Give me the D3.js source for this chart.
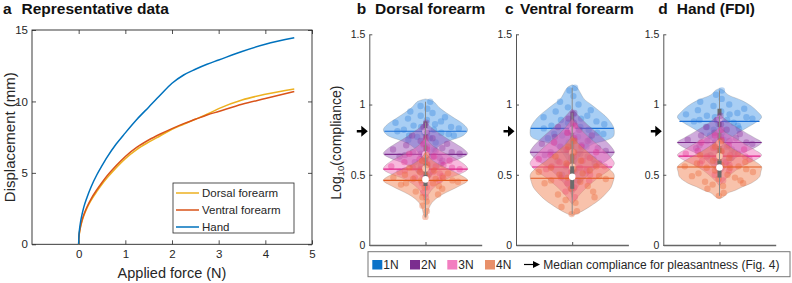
<!DOCTYPE html>
<html><head><meta charset="utf-8">
<script src="https://cdn.jsdelivr.net/npm/d3@7"></script>
<style>
body{margin:0;background:#fff}
svg{display:block;font-family:"Liberation Sans",Arial,sans-serif}
</style>
</head><body>
<svg id="c" width="792" height="283"></svg>
<script>
// ---------------- DATA ----------------
// Panel a: representative force–displacement curves
const curveNames = ["Dorsal forearm", "Ventral forearm", "Hand"];
const appliedForce = [0, 0.005, 0.02, 0.04, 0.07, 0.11, 0.18, 0.27, 0.39, 0.5, 0.61, 0.8, 1.0, 1.25, 1.5, 1.75, 2.0, 2.25, 2.5, 2.75, 3.0, 3.5, 4.0, 4.62];
const dorsalDisp  = [0, 0.42, 0.85, 1.2, 1.6, 2.0, 2.55, 3.1, 3.7, 4.2, 4.65, 5.35, 6.0, 6.65, 7.15, 7.6, 8.05, 8.4, 8.75, 9.1, 9.5, 10.1, 10.5, 10.87];
const ventralDisp = [0, 0.45, 0.9, 1.25, 1.66, 2.07, 2.63, 3.2, 3.82, 4.33, 4.8, 5.5, 6.15, 6.8, 7.3, 7.72, 8.1, 8.45, 8.75, 9.05, 9.3, 9.8, 10.2, 10.7];
const handDisp    = [0, 0.55, 1.1, 1.56, 2.06, 2.6, 3.3, 4.05, 4.87, 5.5, 6.1, 7.0, 7.8, 8.75, 9.6, 10.45, 11.27, 11.85, 12.25, 12.6, 12.9, 13.5, 14.0, 14.45];
const xTicksA = [0, 1, 2, 3, 4, 5];
const yTicksA = [0, 5, 10, 15];

// Panels b-d: log10(compliance) violins
const siteTitles = ["Dorsal forearm", "Ventral forearm", "Hand (FDI)"];
const panelLetters = ["b", "c", "d"];
const forceLevels = ["1N", "2N", "3N", "4N"];
const yTicksV = [0, 0.5, 1, 1.5];
const pleasantMedian = 0.81;

const dorsalValues = [
  [1.02,0.99,0.97,0.95,0.94,0.92,0.91,0.90,0.89,0.88,0.87,0.86,0.85,0.84,0.84,0.83,0.82,0.82,0.81,0.80,0.80,0.79,0.78,0.78,0.77,0.76,0.75,0.73,0.71,0.68,0.64],
  [0.87,0.84,0.80,0.78,0.76,0.74,0.72,0.71,0.70,0.69,0.68,0.67,0.66,0.66,0.65,0.65,0.64,0.63,0.63,0.62,0.61,0.60,0.59,0.58,0.57,0.55,0.53,0.50,0.46],
  [0.76,0.72,0.68,0.65,0.63,0.61,0.60,0.59,0.58,0.57,0.56,0.56,0.55,0.55,0.54,0.54,0.53,0.52,0.52,0.51,0.50,0.49,0.48,0.46,0.44,0.41,0.37,0.34],
  [0.64,0.60,0.57,0.55,0.53,0.52,0.51,0.50,0.49,0.48,0.48,0.47,0.47,0.46,0.46,0.45,0.44,0.44,0.43,0.42,0.41,0.40,0.38,0.36,0.34,0.31,0.28,0.24,0.20]
];
const ventralValues = [
  [1.12,1.10,1.06,1.02,1.00,0.98,0.96,0.95,0.93,0.92,0.91,0.90,0.89,0.88,0.87,0.86,0.85,0.84,0.83,0.82,0.81,0.80,0.79,0.79,0.78,0.77,0.76,0.75,0.73,0.70,0.66,0.60],
  [0.94,0.90,0.87,0.84,0.82,0.80,0.78,0.77,0.75,0.74,0.72,0.71,0.70,0.69,0.68,0.67,0.66,0.65,0.64,0.63,0.62,0.61,0.60,0.58,0.56,0.53,0.50,0.46,0.40],
  [0.85,0.80,0.76,0.73,0.70,0.68,0.66,0.64,0.63,0.62,0.61,0.60,0.59,0.58,0.57,0.56,0.56,0.55,0.54,0.53,0.52,0.50,0.48,0.46,0.44,0.41,0.38,0.34],
  [0.74,0.70,0.66,0.63,0.60,0.58,0.56,0.55,0.54,0.53,0.52,0.51,0.50,0.49,0.48,0.47,0.46,0.45,0.44,0.42,0.40,0.38,0.36,0.34,0.32,0.30,0.27,0.24,0.22]
];
const handValues = [
  [1.10,1.07,1.04,1.02,1.00,0.99,0.97,0.96,0.95,0.94,0.93,0.93,0.92,0.91,0.91,0.90,0.89,0.89,0.88,0.87,0.86,0.85,0.84,0.83,0.82,0.80,0.78,0.75,0.70],
  [0.92,0.89,0.86,0.84,0.82,0.80,0.79,0.78,0.77,0.76,0.75,0.74,0.74,0.73,0.73,0.72,0.71,0.70,0.69,0.68,0.67,0.66,0.64,0.62,0.59,0.55],
  [0.82,0.78,0.75,0.73,0.71,0.69,0.68,0.67,0.66,0.65,0.65,0.64,0.63,0.63,0.62,0.61,0.60,0.59,0.58,0.57,0.55,0.53,0.50,0.46],
  [0.74,0.70,0.67,0.64,0.62,0.60,0.59,0.58,0.57,0.56,0.56,0.55,0.55,0.54,0.53,0.52,0.51,0.50,0.49,0.48,0.47,0.46,0.45,0.44,0.43,0.42,0.40,0.37,0.35]
];

// violin outlines: [log10 compliance, relative density]
const dorsalShapes = [
  [[1.04,0],[1.02,0.2],[0.98,0.32],[0.94,0.5],[0.90,0.7],[0.86,0.9],[0.82,1.0],[0.78,0.9],[0.74,0.55],[0.70,0.3],[0.65,0.15],[0.60,0.05],[0.58,0]],
  [[0.88,0],[0.84,0.12],[0.80,0.3],[0.76,0.5],[0.72,0.72],[0.68,0.92],[0.65,1.0],[0.62,0.85],[0.58,0.5],[0.54,0.28],[0.50,0.15],[0.46,0.06],[0.42,0]],
  [[0.77,0],[0.72,0.12],[0.68,0.3],[0.64,0.55],[0.60,0.8],[0.56,0.97],[0.54,1.0],[0.51,0.85],[0.47,0.5],[0.43,0.28],[0.39,0.14],[0.35,0.05],[0.33,0]],
  [[0.66,0],[0.62,0.1],[0.58,0.28],[0.54,0.55],[0.50,0.82],[0.46,1.0],[0.42,0.8],[0.39,0.6],[0.36,0.4],[0.33,0.25],[0.30,0.15],[0.26,0.08],[0.22,0.05],[0.19,0]]
];
const ventralShapes = [
  [[1.14,0],[1.12,0.12],[1.08,0.2],[1.04,0.28],[1.00,0.45],[0.96,0.62],[0.92,0.78],[0.88,0.9],[0.84,0.98],[0.80,1.0],[0.77,0.97],[0.745,0.8],[0.72,0.5],[0.68,0.3],[0.62,0.15],[0.56,0.05],[0.53,0]],
  [[0.97,0],[0.92,0.15],[0.86,0.35],[0.80,0.58],[0.74,0.8],[0.69,0.95],[0.66,1.0],[0.62,0.9],[0.56,0.62],[0.50,0.38],[0.44,0.2],[0.38,0.06],[0.35,0]],
  [[0.90,0],[0.84,0.15],[0.78,0.35],[0.72,0.58],[0.66,0.8],[0.61,0.95],[0.58,1.0],[0.54,0.9],[0.48,0.62],[0.42,0.38],[0.36,0.18],[0.31,0.05],[0.29,0]],
  [[0.78,0],[0.72,0.15],[0.66,0.38],[0.60,0.62],[0.55,0.85],[0.51,0.98],[0.49,1.0],[0.45,0.97],[0.41,0.92],[0.36,0.78],[0.32,0.64],[0.28,0.45],[0.25,0.29],[0.22,0.1],[0.21,0]]
];
const handShapes = [
  [[1.115,0],[1.10,0.1],[1.07,0.2],[1.03,0.52],[0.99,0.75],[0.95,0.9],[0.91,1.0],[0.87,0.85],[0.83,0.62],[0.79,0.4],[0.75,0.2],[0.71,0.06],[0.69,0]],
  [[0.93,0],[0.88,0.2],[0.84,0.4],[0.80,0.62],[0.76,0.85],[0.73,1.0],[0.70,0.88],[0.66,0.6],[0.62,0.38],[0.57,0.2],[0.52,0.06],[0.50,0]],
  [[0.84,0],[0.80,0.15],[0.76,0.38],[0.72,0.6],[0.68,0.82],[0.64,1.0],[0.61,0.88],[0.57,0.6],[0.53,0.38],[0.48,0.18],[0.44,0.05],[0.42,0]],
  [[0.76,0],[0.72,0.15],[0.68,0.35],[0.64,0.58],[0.60,0.82],[0.556,1.0],[0.52,0.98],[0.485,0.95],[0.44,0.75],[0.415,0.55],[0.39,0.38],[0.37,0.2],[0.355,0.14],[0.34,0.08],[0.33,0]]
];

// summary statistics per force level (1N..4N)
const dorsalMeans   = [0.81, 0.645, 0.54, 0.46];
const dorsalMedians = [0.81, 0.645, 0.545, 0.467];
const dorsalQ1      = [0.75, 0.59, 0.50, 0.42];
const dorsalQ3      = [0.88, 0.71, 0.58, 0.50];
const dorsalLo      = [0.64, 0.46, 0.34, 0.20];
const dorsalHi      = [1.02, 0.87, 0.76, 0.64];
const ventralMeans   = [0.83, 0.66, 0.555, 0.475];
const ventralMedians = [0.82, 0.66, 0.556, 0.485];
const ventralQ1      = [0.77, 0.60, 0.49, 0.40];
const ventralQ3      = [0.95, 0.77, 0.65, 0.56];
const ventralLo      = [0.60, 0.40, 0.34, 0.22];
const ventralHi      = [1.12, 0.94, 0.85, 0.74];
const handMeans   = [0.88, 0.73, 0.633, 0.555];
const handMedians = [0.90, 0.727, 0.633, 0.552];
const handQ1      = [0.84, 0.68, 0.58, 0.48];
const handQ3      = [0.97, 0.80, 0.69, 0.60];
const handLo      = [0.70, 0.55, 0.46, 0.35];
const handHi      = [1.10, 0.92, 0.82, 0.74];

// fixed horizontal spread pattern of the scatter points (fraction of local violin width)
const jitterPattern = [0.62,-0.45,0.13,-0.88,0.37,-0.21,0.79,-0.66,0.05,0.51,-0.93,0.28,-0.34,0.71,-0.12,0.90,-0.57,0.22,-0.76,0.44,-0.03,0.66,-0.48,0.83,-0.27,0.16,-0.71,0.55,-0.15,0.94,-0.39,0.31];

// ---------------- STYLE ----------------
const curveColors = ["#EDB120", "#D95319", "#0072BD"];
const legendColors = ["#0b72c8", "#7b2d8f", "#f27ec0", "#e8906a"];
const fillColors   = ["#4a98e8", "#9b50b5", "#f06ab8", "#f08050"];
const pointColors  = ["#2f80dc", "#8a2d9a", "#e5288c", "#ec6030"];
const lineColors   = ["#1a6fd8", "#7b2a8c", "#e0208a", "#e25a1e"];
const axisCol = "#262626";

const svg = d3.select("#c");

// ---------------- PANEL A ----------------
const A = {l: 32, r: 312, t: 30, b: 244.3};
const ax = d3.scaleLinear().domain([-1, 5]).range([A.l, A.r]);
const ay = d3.scaleLinear().domain([0, 15]).range([A.b, A.t]);
const gA = svg.append("g");
const intFmt = d3.format("d");

function styleAxis(g, fs) {
  g.select(".domain").remove();
  g.selectAll(".tick line").attr("stroke", axisCol).attr("stroke-width", 0.8);
  g.selectAll(".tick text").attr("fill", axisCol).attr("font-size", fs)
    .attr("font-family", '"Liberation Sans",Arial,sans-serif');
}
gA.append("g").attr("transform", `translate(0,${A.b})`)
  .call(d3.axisBottom(ax).tickValues(xTicksA).tickFormat(intFmt).tickSize(-4).tickPadding(6).tickSizeOuter(0))
  .call(g => styleAxis(g, 11.5));
gA.append("g").attr("transform", `translate(0,${A.t})`)
  .call(d3.axisTop(ax).tickValues(xTicksA).tickSize(-4).tickFormat("").tickSizeOuter(0))
  .call(g => styleAxis(g, 11.5));
gA.append("g").attr("transform", `translate(${A.l},0)`)
  .call(d3.axisLeft(ay).tickValues(yTicksA).tickFormat(intFmt).tickSize(-4).tickPadding(4).tickSizeOuter(0))
  .call(g => styleAxis(g, 11.5));
gA.append("g").attr("transform", `translate(${A.r},0)`)
  .call(d3.axisRight(ay).tickValues(yTicksA).tickSize(-4).tickFormat("").tickSizeOuter(0))
  .call(g => styleAxis(g, 11.5));
gA.append("rect").attr("x", A.l).attr("y", A.t).attr("width", A.r - A.l).attr("height", A.b - A.t)
  .attr("fill", "none").attr("stroke", axisCol).attr("stroke-width", 0.9);

const curveSeries = [dorsalDisp, ventralDisp, handDisp];
const lineGen = d3.line().x(d => ax(d[0])).y(d => ay(d[1])).curve(d3.curveMonotoneX);
curveSeries.forEach((ys, i) => {
  gA.append("path").datum(appliedForce.map((f, k) => [f, ys[k]]))
    .attr("d", lineGen).attr("fill", "none").attr("stroke", curveColors[i]).attr("stroke-width", 1.5);
});

// legend a
const LA = {x: 173, y: 183, w: 121, h: 50};
gA.append("rect").attr("x", LA.x).attr("y", LA.y).attr("width", LA.w).attr("height", LA.h)
  .attr("fill", "#fff").attr("stroke", axisCol).attr("stroke-width", 0.8);
curveNames.forEach((n, i) => {
  const yy = LA.y + 10 + i * 17;
  gA.append("line").attr("x1", LA.x + 3).attr("x2", LA.x + 26).attr("y1", yy).attr("y2", yy)
    .attr("stroke", curveColors[i]).attr("stroke-width", 1.5);
  gA.append("text").attr("x", LA.x + 29).attr("y", yy + 4).attr("font-size", 11.5).attr("fill", axisCol).text(n);
});

gA.append("text").attr("x", (A.l + A.r) / 2).attr("y", 278).attr("text-anchor", "middle")
  .attr("font-size", 14.5).attr("fill", axisCol).text("Applied force (N)");
gA.append("text").attr("transform", `translate(15,${(A.t + A.b) / 2}) rotate(-90)`).attr("text-anchor", "middle")
  .attr("font-size", 15).attr("fill", axisCol).text("Displacement (mm)");

function title(letterX, textX, letter, txt) {
  svg.append("text").attr("x", letterX).attr("y", 13.5).attr("font-size", 15.5).attr("font-weight", "bold").attr("fill", "#111").text(letter);
  svg.append("text").attr("x", textX).attr("y", 13.5).attr("font-size", 15.5).attr("font-weight", "bold").attr("fill", "#111").text(txt);
}
title(3, 21.5, "a", "Representative data");

// ---------------- PANELS B-D ----------------
const panelLefts = [369.3, 516, 663.3];
const panelW = 112.4;
const V = {t: 34.3, b: 245};
const vy = d3.scaleLinear().domain([0, 1.5]).range([V.b, V.t]);
const halfWidthUnits = 0.75; // x-units
const titleX = [[356.7, 375], [505, 520], [658.3, 676.7]];

const siteValues = [dorsalValues, ventralValues, handValues];
const siteShapes = [dorsalShapes, ventralShapes, handShapes];
const siteMeans = [dorsalMeans, ventralMeans, handMeans];
const siteMedians = [dorsalMedians, ventralMedians, handMedians];
const siteQ1 = [dorsalQ1, ventralQ1, handQ1];
const siteQ3 = [dorsalQ3, ventralQ3, handQ3];
const siteLo = [dorsalLo, ventralLo, handLo];
const siteHi = [dorsalHi, ventralHi, handHi];

function widthAt(shape, v) {
  if (v >= shape[0][0] || v <= shape[shape.length - 1][0]) return 0;
  for (let i = 0; i < shape.length - 1; i++) {
    const a = shape[i], b = shape[i + 1];
    if (v <= a[0] && v >= b[0]) {
      const t = (a[0] - v) / (a[0] - b[0]);
      return a[1] + t * (b[1] - a[1]);
    }
  }
  return 0;
}

panelLefts.forEach((L, si) => {
  const vx = d3.scaleLinear().domain([0, 2]).range([L, L + panelW]);
  const cx = 1;
  const g = svg.append("g");

  // axes
  const gy = g.append("g").attr("transform", `translate(${L},0)`)
    .call(d3.axisLeft(vy).tickValues(yTicksV).tickFormat(d => String(d)).tickSize(-3).tickPadding(4).tickSizeOuter(0));
  gy.select(".domain").attr("stroke", "#555").attr("stroke-width", 1);
  gy.selectAll(".tick line").attr("stroke", "#555");
  gy.selectAll(".tick text").attr("fill", axisCol).attr("font-size", 10.5).attr("font-family", '"Liberation Sans",Arial,sans-serif');
  const gx = g.append("g").attr("transform", `translate(0,${V.b})`)
    .call(d3.axisBottom(vx).tickValues([cx]).tickFormat("").tickSize(-3).tickSizeOuter(0));
  gx.select(".domain").attr("stroke", "#666").attr("stroke-width", 1.4);
  gx.selectAll(".tick line").attr("stroke", "#555");

  // violins
  forceLevels.forEach((f, fi) => {
    const shape = siteShapes[si][fi];
    const vg = g.append("g");
    const area = d3.area()
      .y(d => vy(d[0]))
      .x0(d => vx(cx - halfWidthUnits * d[1]))
      .x1(d => vx(cx + halfWidthUnits * d[1]))
      .curve(d3.curveCatmullRom.alpha(0.5));
    vg.append("path").datum(shape).attr("d", area)
      .attr("fill", fillColors[fi]).attr("fill-opacity", 0.48)
      .attr("stroke", "#777").attr("stroke-opacity", 0.45).attr("stroke-width", 0.6);
    siteValues[si][fi].forEach((v, k) => {
      const j = jitterPattern[k % jitterPattern.length];
      const w = widthAt(shape, v) * halfWidthUnits * 0.9;
      vg.append("circle").attr("cx", vx(cx + j * w)).attr("cy", vy(v)).attr("r", 3.2)
        .attr("fill", pointColors[fi]).attr("fill-opacity", 0.35);
    });
    vg.append("line").attr("x1", vx(cx)).attr("x2", vx(cx))
      .attr("y1", vy(siteLo[si][fi])).attr("y2", vy(siteHi[si][fi]))
      .attr("stroke", "#8a8a8a").attr("stroke-width", 1);
    vg.append("line").attr("x1", vx(cx)).attr("x2", vx(cx))
      .attr("y1", vy(siteQ1[si][fi])).attr("y2", vy(siteQ3[si][fi]))
      .attr("stroke", "#6b6b6b").attr("stroke-width", 4);
    const m = siteMeans[si][fi];
    const mw = Math.max(widthAt(shape, m), 0.95) * halfWidthUnits;
    vg.append("line").attr("x1", vx(cx - mw)).attr("x2", vx(cx + mw))
      .attr("y1", vy(m)).attr("y2", vy(m))
      .attr("stroke", lineColors[fi]).attr("stroke-width", 1.1);
    vg.append("circle").attr("cx", vx(cx)).attr("cy", vy(siteMedians[si][fi])).attr("r", 3.3)
      .attr("fill", "#fff");
  });

  const ya = vy(pleasantMedian);
  g.append("path")
    .attr("d", `M${L - 12.5},${ya - 1.2} L${L - 8},${ya - 1.2} L${L - 8},${ya - 5.5} L${L - 1.5},${ya} L${L - 8},${ya + 5.5} L${L - 8},${ya + 1.2} L${L - 12.5},${ya + 1.2} Z`)
    .attr("fill", "#000");

  title(titleX[si][0], titleX[si][1], panelLetters[si], siteTitles[si]);
});

const ylab = svg.append("text").attr("transform", `translate(341,${(V.t + V.b) / 2 + 3}) rotate(-90)`)
  .attr("text-anchor", "middle").attr("font-size", 14).attr("fill", axisCol);
ylab.append("tspan").text("Log");
ylab.append("tspan").attr("font-size", 9.5).attr("dy", 3).text("10");
ylab.append("tspan").attr("dy", -3).text("(compliance)");

// bottom legend
const LB = {x: 368, y: 251.7, w: 422, h: 25};
svg.append("rect").attr("x", LB.x).attr("y", LB.y).attr("width", LB.w).attr("height", LB.h)
  .attr("fill", "#fff").attr("stroke", "#777").attr("stroke-width", 1);
const sqX = [372.3, 410, 447.3, 485];
forceLevels.forEach((f, i) => {
  svg.append("rect").attr("x", sqX[i]).attr("y", 260).attr("width", 10).attr("height", 9.5).attr("fill", legendColors[i]);
  svg.append("text").attr("x", sqX[i] + 11).attr("y", 269).attr("font-size", 12).attr("fill", axisCol).text(f);
});
svg.append("line").attr("x1", 524).attr("x2", 534).attr("y1", 264.5).attr("y2", 264.5).attr("stroke", "#000").attr("stroke-width", 1.2);
svg.append("path").attr("d", "M533,261 L540,264.5 L533,268 Z").attr("fill", "#000");
svg.append("text").attr("x", 543.3).attr("y", 269).attr("font-size", 12).attr("fill", axisCol)
  .text("Median compliance for pleasantness (Fig. 4)");
</script>
</body></html>
